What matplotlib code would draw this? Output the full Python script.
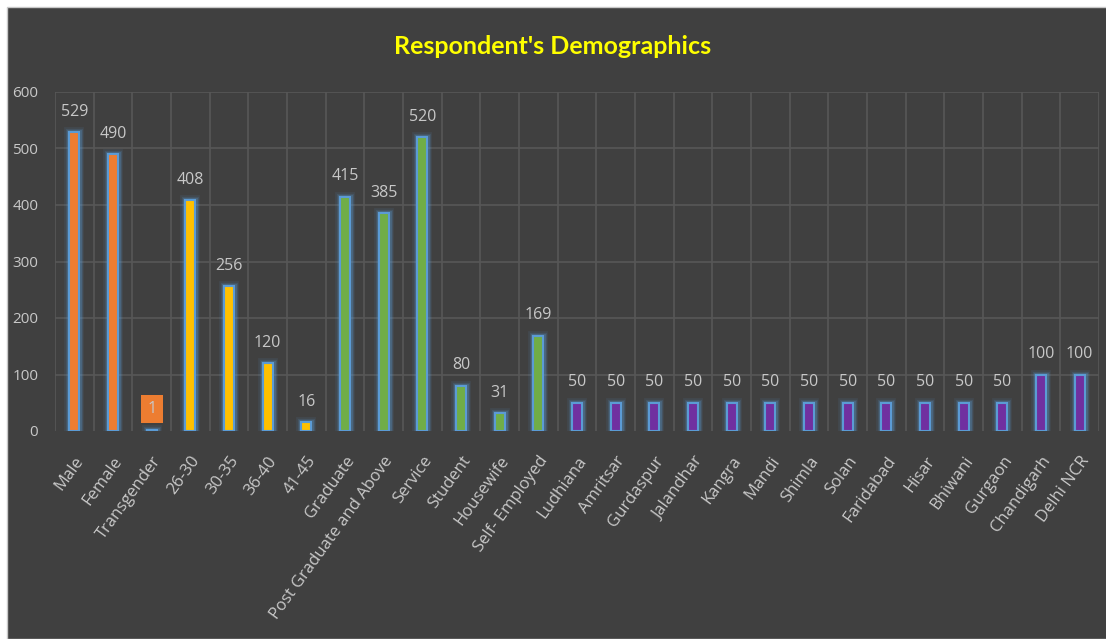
import matplotlib
matplotlib.use("Agg")
import matplotlib.pyplot as plt
from matplotlib.patches import Rectangle
import numpy as np

categories = ["Male", "Female", "Transgender", "26-30", "30-35", "36-40", "41-45",
              "Graduate", "Post Graduate and Above", "Service", "Student", "Housewife",
              "Self- Employed", "Ludhiana", "Amritsar", "Gurdaspur", "Jalandhar", "Kangra",
              "Mandi", "Shimla", "Solan", "Faridabad", "Hisar", "Bhiwani", "Gurgaon",
              "Chandigarh", "Delhi NCR"]
values = [529, 490, 1, 408, 256, 120, 16,
          415, 385, 520, 80, 31, 169,
          50, 50, 50, 50, 50, 50, 50, 50, 50, 50, 50, 50, 100, 100]
groups = ["gender"] * 3 + ["age"] * 4 + ["occupation"] * 6 + ["city"] * 14
group_colors = {"gender": "#ED7D31", "age": "#FFC000",
                "occupation": "#70AD47", "city": "#7030A0"}
yticks = [0, 100, 200, 300, 400, 500, 600]

BG = "#404040"
TXT = "#C8C8C8"
GRID = "#575757"
EDGE = "#5B9BD5"
FONT = ["Open Sans", "DejaVu Sans"]

fig = plt.figure(figsize=(11.06, 6.39), dpi=100)
fig.patch.set_facecolor("white")
# dark chart panel with thin white margin at top and left
fig.add_artist(Rectangle((7 / 1106, 0), 1, 1 - 7 / 639, transform=fig.transFigure,
                         facecolor=BG, edgecolor="#C8C8C8", linewidth=1.0, zorder=0))

ax = fig.add_axes([55 / 1106, 1 - 431 / 639, (1099 - 55) / 1106, (431 - 92) / 639])
ax.set_facecolor(BG)
ax.patch.set_alpha(0)

x = np.arange(len(categories))
colors = [group_colors[g] for g in groups]
width = 0.26

# soft glow behind each bar
for lw, a in [(7, 0.10), (5, 0.15), (3.5, 0.25)]:
    ax.bar(x, values, width=width, color="none", edgecolor=EDGE, linewidth=lw,
           alpha=a, zorder=2)
ax.bar(x, values, width=width, color=colors, edgecolor=EDGE, linewidth=1.5, zorder=3)

ax.set_xlim(-0.5, len(categories) - 0.5)
ax.set_ylim(0, 600)
ax.set_yticks(yticks)
ax.set_yticklabels([str(v) for v in yticks], color=TXT, fontsize=11, family=FONT)
ax.set_xticks(x)
ax.set_xticklabels(categories, rotation=54, ha="right", rotation_mode="anchor",
                   color=TXT, fontsize=12, family=FONT)
ax.tick_params(axis="both", length=0)
ax.tick_params(axis="x", pad=16)
ax.tick_params(axis="y", pad=12)

# grid: horizontal at every tick, vertical at category boundaries
for yv in yticks[1:]:
    ax.axhline(yv, color=GRID, linewidth=1.2, zorder=1)
for b in np.arange(-0.5, len(categories), 1.0):
    ax.axvline(b, color=GRID, linewidth=1.2, zorder=1)
for s in ax.spines.values():
    s.set_visible(False)

for xi, v, g in zip(x, values, groups):
    if v < 5:
        ax.text(xi, v + 38, str(v), ha="center", va="center", color=TXT,
                fontsize=11.5, family=FONT, zorder=5,
                bbox=dict(boxstyle="square,pad=0.4", facecolor=group_colors[g],
                          edgecolor="none"))
    else:
        ax.text(xi, v + 22, str(v), ha="center", va="bottom", color=TXT,
                fontsize=11.5, family=FONT, zorder=5)

fig.text(0.5, 1 - 46 / 639, "Respondent's Demographics", ha="center", va="center",
         color="#FFFF00", fontsize=18, fontweight="bold",
         family=["Lato", "Open Sans", "DejaVu Sans"])

fig.savefig("out.png", dpi=100, facecolor=fig.get_facecolor())
